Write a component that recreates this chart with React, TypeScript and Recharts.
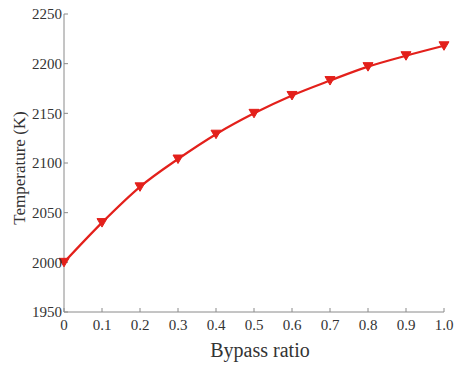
import React from 'react';
import { LineChart, Line, XAxis, YAxis, Label } from 'recharts';

const bypassRatio = [0, 0.1, 0.2, 0.3, 0.4, 0.5, 0.6, 0.7, 0.8, 0.9, 1.0];
const temperature = [2000, 2040, 2076, 2104, 2129, 2150, 2168, 2183, 2197, 2208, 2218];
const xTicks = [0, 0.1, 0.2, 0.3, 0.4, 0.5, 0.6, 0.7, 0.8, 0.9, 1.0];
const yTicks = [1950, 2000, 2050, 2100, 2150, 2200, 2250];

const data = bypassRatio.map((x, i) => ({ x, t: temperature[i] }));

const FONT = '"Liberation Serif", "Times New Roman", serif';
const AXIS = '#8a8a8a';
const TEXT = '#333333';
const RED = '#e3201b';

const TriangleDown = (props: any) => {
  const { cx, cy } = props;
  if (cx == null || cy == null) return null;
  const s = 5;
  return (
    <path
      d={`M${cx - s},${cy - s * 0.8} L${cx + s},${cy - s * 0.8} L${cx},${cy + s * 0.9} Z`}
      fill={RED}
      stroke={RED}
      strokeWidth={1}
    />
  );
};

const YTitle = (props: any) => {
  const vb = props.viewBox || {};
  const cx = (vb.x ?? 0) + 19;
  const cy = (vb.y ?? 0) + (vb.height ?? 0) / 2 + 5;
  return (
    <text
      x={cx}
      y={cy}
      transform={`rotate(-90 ${cx} ${cy})`}
      textAnchor="middle"
      dominantBaseline="central"
      fill={TEXT}
      fontFamily={FONT}
      fontSize={17}
    >
      Temperature (K)
    </text>
  );
};

export default function App() {
  return (
    <div style={{ position: 'absolute', left: 0, top: 0, width: 460, height: 365, background: '#fff' }}>
      <LineChart width={460} height={365} data={data} margin={{ top: 14, right: 16, bottom: 0, left: 0 }}>
        <XAxis
          dataKey="x"
          type="number"
          domain={[0, 1]}
          ticks={xTicks}
          tickFormatter={(v: number) => (v === 1 ? '1.0' : String(v))}
          stroke={AXIS}
          tickSize={-4}
          tickMargin={11}
          tick={{ fill: TEXT, fontFamily: FONT, fontSize: 15 }}
          height={53}
          label={{ value: 'Bypass ratio', position: 'insideBottom', offset: 8, dx: 6, fill: TEXT, fontFamily: FONT, fontSize: 20 }}
        />
        <XAxis
          xAxisId="top"
          dataKey="x"
          type="number"
          orientation="top"
          domain={[0, 1]}
          ticks={xTicks}
          tickFormatter={() => ''}
          stroke={AXIS}
          tickSize={-4}
          height={0}
        />
        <YAxis
          type="number"
          domain={[1950, 2250]}
          ticks={yTicks}
          stroke={AXIS}
          tickSize={-4}
          tickMargin={6}
          width={64}
          tick={{ fill: TEXT, fontFamily: FONT, fontSize: 15 }}
        >
          <Label content={<YTitle />} />
        </YAxis>
        <YAxis
          yAxisId="right"
          type="number"
          orientation="right"
          domain={[1950, 2250]}
          ticks={yTicks}
          tickFormatter={() => ''}
          stroke={AXIS}
          tickSize={-4}
          width={0}
        />
        <Line
          dataKey="t"
          type="monotone"
          stroke={RED}
          strokeWidth={2.2}
          dot={<TriangleDown />}
          activeDot={false}
          isAnimationActive={false}
        />
      </LineChart>
    </div>
  );
}
